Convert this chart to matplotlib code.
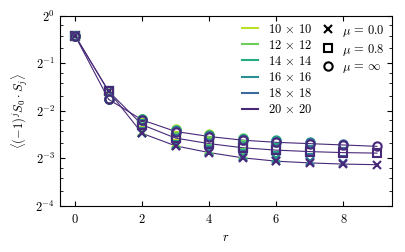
import matplotlib
matplotlib.use("Agg")
import matplotlib.pyplot as plt
from matplotlib.lines import Line2D
from matplotlib.ticker import LogLocator, FuncFormatter, FixedLocator
import numpy as np

plt.rcParams["mathtext.fontset"] = "cm"
plt.rcParams["font.family"] = "serif"
plt.rcParams["font.serif"] = ["cmr10", "DejaVu Serif"]
plt.rcParams["axes.unicode_minus"] = False

sizes = [10, 12, 14, 16, 18, 20]
size_labels = [r"$10\,\times\,10$", r"$12\,\times\,12$", r"$14\,\times\,14$",
               r"$16\,\times\,16$", r"$18\,\times\,18$", r"$20\,\times\,20$"]
size_colors = ["#bcdf27", "#6ccd5a", "#25ab82", "#2a8d92", "#3a6aa0", "#482878"]

mu_labels = [r"$\mu\,=\,0.0$", r"$\mu\,=\,0.8$", r"$\mu\,=\,\infty$"]
mu_markers = ["x", "s", "o"]

# correlations vs r, one list per system size (r = 0 .. L/2-1)
corr_mu0 = {
    10: [0.75, 0.336, 0.185, 0.156, 0.142],
    12: [0.75, 0.335, 0.183, 0.154, 0.140, 0.132],
    14: [0.75, 0.334, 0.182, 0.152, 0.139, 0.130, 0.125],
    16: [0.75, 0.334, 0.181, 0.151, 0.138, 0.128, 0.123, 0.121],
    18: [0.75, 0.333, 0.180, 0.150, 0.137, 0.127, 0.121, 0.119, 0.117],
    20: [0.75, 0.333, 0.180, 0.150, 0.136, 0.126, 0.120, 0.117, 0.115, 0.114],
}
corr_mu08 = {
    10: [0.75, 0.336, 0.208, 0.174, 0.162],
    12: [0.75, 0.335, 0.206, 0.172, 0.160, 0.152],
    14: [0.75, 0.334, 0.205, 0.170, 0.158, 0.150, 0.146],
    16: [0.75, 0.334, 0.205, 0.169, 0.157, 0.148, 0.144, 0.142],
    18: [0.75, 0.333, 0.204, 0.169, 0.156, 0.147, 0.142, 0.140, 0.138],
    20: [0.75, 0.333, 0.204, 0.168, 0.155, 0.146, 0.141, 0.138, 0.136, 0.135],
}
corr_muinf = {
    10: [0.75, 0.298, 0.223, 0.191, 0.179],
    12: [0.75, 0.297, 0.222, 0.189, 0.177, 0.169],
    14: [0.75, 0.297, 0.221, 0.188, 0.175, 0.167, 0.163],
    16: [0.75, 0.296, 0.220, 0.187, 0.174, 0.165, 0.161, 0.159],
    18: [0.75, 0.296, 0.219, 0.186, 0.173, 0.164, 0.159, 0.157, 0.154],
    20: [0.75, 0.296, 0.219, 0.185, 0.172, 0.163, 0.158, 0.155, 0.152, 0.149],
}
all_corr = [corr_mu0, corr_mu08, corr_muinf]

fig = plt.figure(figsize=(4.05, 2.52), dpi=100)
ax = fig.add_axes([0.148, 0.183, 0.82, 0.754])

for corr, marker in zip(all_corr, mu_markers):
    for L, color in zip(sizes, size_colors):
        y = corr[L]
        r = np.arange(len(y))
        if L == sizes[-1]:
            ax.plot(r, y, "-", color=color, lw=0.8, zorder=3)
        ax.plot(r, y, linestyle="none", marker=marker, ms=6, mew=1.5,
                mfc="none", mec=color, zorder=4)

ax.set_yscale("log", base=2)
ax.set_ylim(2 ** -4, 2 ** 0)
ax.yaxis.set_major_locator(LogLocator(base=2, numticks=10))
ax.yaxis.set_minor_locator(LogLocator(base=2, subs=[1.25, 1.5, 1.75], numticks=10))
ax.yaxis.set_major_formatter(FuncFormatter(lambda v, p: r"$2^{%d}$" % round(np.log2(v))))
ax.yaxis.set_minor_formatter(FuncFormatter(lambda v, p: ""))
ax.xaxis.set_major_locator(FixedLocator([0, 2, 4, 6, 8]))
ax.xaxis.set_major_formatter(FuncFormatter(lambda v, p: r"$%d$" % v))

ax.tick_params(which="both", direction="in", top=True, right=True, labelsize=9)
ax.tick_params(which="major", length=3.5, width=0.8)
ax.tick_params(which="minor", length=2, width=0.6)
ax.tick_params(axis="x", pad=5)

ax.set_xlabel(r"$r$", fontsize=9)
ax.set_ylabel(r"$\langle (-1)^j S_0 \cdot S_j \rangle$", fontsize=9)

size_handles = [Line2D([], [], color=c, lw=1.5) for c in size_colors]
leg1 = ax.legend(size_handles, size_labels, loc="upper left", bbox_to_anchor=(0.548, 0.965),
                 frameon=False, fontsize=9, handlelength=1.25, labelspacing=0.25,
                 borderpad=0, borderaxespad=0, handletextpad=0.8)
ax.add_artist(leg1)
mu_handles = [Line2D([], [], linestyle="none", marker=m, ms=6, mew=1.5, mfc="none", mec="black")
              for m in mu_markers]
ax.legend(mu_handles, mu_labels, loc="upper left", bbox_to_anchor=(0.79, 0.965),
          frameon=False, fontsize=9, handlelength=0.9, labelspacing=0.25,
          borderpad=0, borderaxespad=0, handletextpad=0.7)

fig.savefig("out.png", dpi=100)
